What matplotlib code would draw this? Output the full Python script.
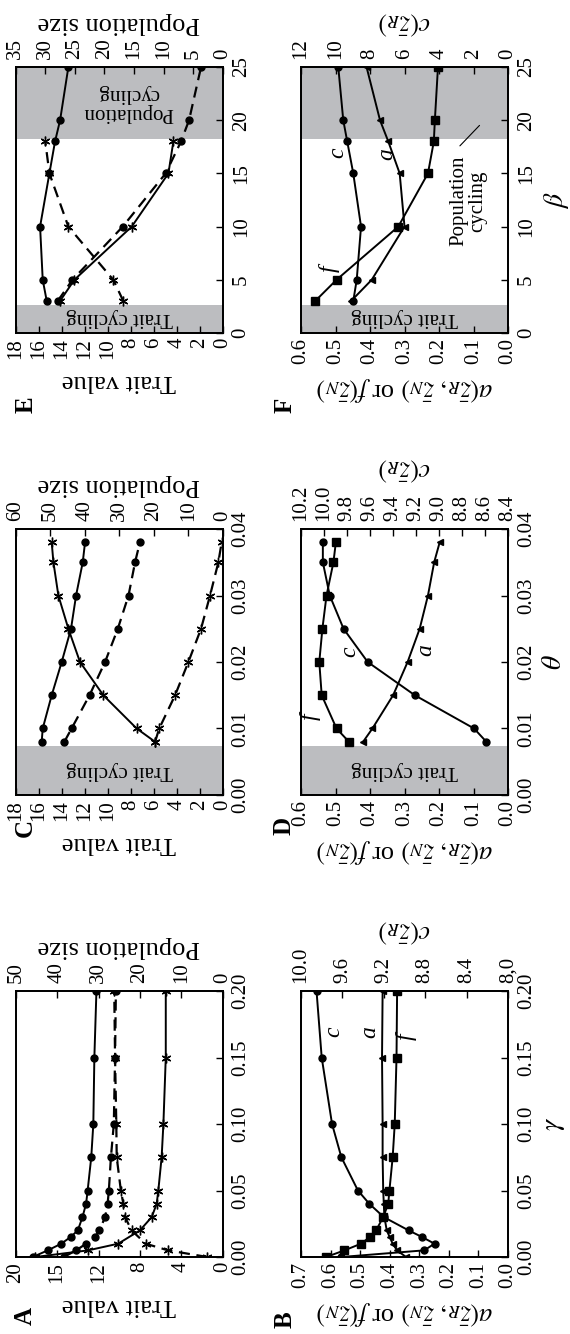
import matplotlib
matplotlib.use('Agg')
import matplotlib.pyplot as plt

plt.rcParams['font.family'] = 'serif'
plt.rcParams['font.serif'] = ['Liberation Serif', 'DejaVu Serif']
plt.rcParams['mathtext.fontset'] = 'stix'

# ---------------- data ----------------
# Panel A / B : gamma
gamma = [0, 0.005, 0.01, 0.015, 0.02, 0.03, 0.04, 0.05, 0.075, 0.1, 0.15, 0.2]
gamma_pred = [0, 0.005, 0.01, 0.02, 0.03, 0.04, 0.05, 0.075, 0.1, 0.15, 0.2]
A_trait_prey = [18.35, 16.9, 15.6, 14.7, 14.0, 13.55, 13.2, 13.05, 12.7, 12.5, 12.4, 12.2]
A_pop_prey = [38.4, 35.4, 33.0, 30.8, 29.8, 28.4, 27.8, 27.5, 27.0, 26.3, 26.0, 25.8]
A_trait_pred = [18.1, 13.0, 10.1, 8.0, 6.86, 6.38, 6.22, 5.9, 5.73, 5.5, 5.5]
A_pop_pred = [3.7, 13.2, 18.6, 22.0, 23.6, 24.0, 24.6, 25.6, 25.7, 26.0, 26.2]
B_c = [9.61, 8.81, 8.71, 8.83, 8.96, 9.20, 9.34, 9.45, 9.61, 9.70, 9.80, 9.85]
B_f = [0.615, 0.553, 0.497, 0.467, 0.446, 0.422, 0.405, 0.401, 0.390, 0.383, 0.377, 0.375]
B_a = [0.345, 0.375, 0.39, 0.40, 0.41, 0.418, 0.42, 0.422, 0.424, 0.424, 0.426, 0.424]

# Panel C / D : theta
theta = [0.008, 0.01, 0.015, 0.02, 0.025, 0.03, 0.035, 0.038]
C_trait_prey = [15.74, 15.65, 14.87, 14.0, 13.19, 12.75, 12.17, 11.97]
C_pop_prey = [45.9, 43.8, 38.6, 34.1, 30.4, 27.3, 25.4, 24.0]
C_trait_pred = [5.88, 7.48, 10.38, 12.41, 13.42, 14.29, 14.72, 14.87]
C_pop_pred = [19.6, 18.4, 13.8, 9.95, 6.28, 3.67, 1.26, 0.3]
D_f = [0.461, 0.497, 0.540, 0.547, 0.538, 0.526, 0.506, 0.499]
D_c = [8.588, 8.695, 9.21, 9.62, 9.83, 9.95, 10.01, 10.01]
D_a = [0.420, 0.393, 0.333, 0.291, 0.256, 0.232, 0.214, 0.198]

# Panel E / F : beta
beta = [3, 5, 10, 15, 18, 20, 25]
beta_pred = [3, 5, 10, 15, 18]
E_trait_prey = [15.30, 15.65, 15.88, 15.07, 14.58, 14.14, 13.42]
E_pop_prey = [27.9, 25.4, 16.9, 9.64, 7.05, 5.69, 3.66]
E_trait_pred = [14.15, 12.9, 7.91, 4.72, 4.29]
E_pop_pred = [16.8, 18.5, 26.1, 29.3, 30.0]
F_f = [0.559, 0.497, 0.318, 0.232, 0.215, 0.212, 0.203]
F_c = [8.97, 8.77, 8.52, 8.97, 9.32, 9.55, 9.84]
F_a = [0.455, 0.395, 0.30, 0.314, 0.347, 0.371, 0.41]

# shaded regions (parameter ranges)
trait_cycling_C = (0, 0.0073)
trait_cycling_E = (0, 2.6)
pop_cycling_E = (18.2, 25)

# ---------------- figure ----------------
W, H = 570, 1334
fig = plt.figure(figsize=(W / 100, H / 100), dpi=100)
shade = '#bcbdc0'
TICK = 15
LAB = 19
ASTER = (6, 2, 0)
solid = dict(color='k', lw=1.4, ls='-')
dashed = dict(color='k', lw=1.6, ls=(0, (5, 3)))


def px_axes(x0, y0, x1, y1):
    return fig.add_axes([x0 / W, 1 - y1 / H, (x1 - x0) / W, (y1 - y0) / H])


def make_panel(box, vmax, vticks, vlabels, tmax, tticks, tlabels, pmax, pticks, plabels,
               left_label, top_label, plabel=None):
    ax = px_axes(*box)
    ax.set_xlim(vmax, 0)
    ax.set_ylim(0, pmax)
    ax.set_xticks(vticks)
    ax.set_xticklabels(vlabels, rotation=90)
    ax.yaxis.tick_right()
    ax.set_yticks(pticks)
    ax.set_yticklabels(plabels, rotation=90, va='center')
    ax.tick_params(direction='in', length=5, width=1, labelsize=TICK,
                   top=False, left=False, right=True, bottom=True)
    ax.tick_params(axis='x', pad=3.5)
    ax.tick_params(axis='y', pad=6.5)
    for s in ax.spines.values():
        s.set_linewidth(1.3)
    ax2 = ax.twiny()
    ax2.set_xlim(tmax, 0)
    ax2.set_xticks(tticks)
    ax2.set_xticklabels(tlabels, rotation=90)
    ax2.tick_params(direction='in', length=5, width=1, labelsize=TICK, pad=6)
    for s in ax2.spines.values():
        s.set_linewidth(1.3)
    ax.set_xlabel(left_label, rotation=180, fontsize=LAB, labelpad=8)
    ax2.set_xlabel(top_label, rotation=180, fontsize=LAB, labelpad=6)
    if plabel:
        ax.yaxis.set_label_position('right')
        ax.set_ylabel(plabel, rotation=90, fontsize=LAB + 1, labelpad=4)
    return ax, ax2


def letter(x, y, s):
    fig.text(x / W, 1 - y / H, s, rotation=90, fontsize=18, fontweight='bold',
             ha='center', va='center')


def curve_label(ax, s, v, p):
    ax.text(v, p, s, fontsize=17, style='italic', rotation=90, ha='center', va='center')


ab_label = r'$a(\bar{z}_R,\,\bar{z}_N)$ or $f(\bar{z}_N)$'
c_label = r'$c(\bar{z}_R)$'
gticks = [0, 0.05, 0.1, 0.15, 0.2]
gl = ['%.2f' % g for g in gticks]
tht = [0, 0.01, 0.02, 0.03, 0.04]
thl = ['%.2f' % t for t in tht]
bt = [0, 5, 10, 15, 20, 25]
btl = [str(b) for b in bt]
ft = [0, 0.1, 0.2, 0.3, 0.4, 0.5, 0.6]
ftl = ['%.1f' % v for v in ft]

# ---- Panel A ----
ax, ax2 = make_panel((15.7, 991, 222.7, 1257), 20, [0, 4, 8, 12, 16, 20],
                     ['0', '4', '8', '12', '15', '20'], 50, [0, 10, 20, 30, 40, 50],
                     ['0', '10', '20', '30', '40', '50'], 0.2, gticks, gl,
                     'Trait value', 'Population size')
ax.plot(A_trait_prey, gamma, marker='o', ms=5, **solid)
ax.plot(A_trait_pred, gamma_pred, marker=ASTER, ms=7, mew=1, **solid)
ax2.plot(A_pop_prey, gamma, marker='o', ms=5, **dashed)
ax2.plot(A_pop_pred, gamma_pred, marker=ASTER, ms=7, mew=1, **dashed)
letter(25, 1316, 'A')

# ---- Panel B ----
ax, ax2 = make_panel((301, 991, 508, 1257), 0.7, [0, 0.1, 0.2, 0.3, 0.4, 0.5, 0.6, 0.7],
                     ['0.0', '0.1', '0.2', '0.3', '0.4', '0.5', '0.6', '0.7'], 10,
                     [8.0, 8.4, 8.8, 9.2, 9.6, 10.0],
                     ['8,0', '8.4', '8.8', '9.2', '9.6', '10.0'], 0.2, gticks, gl,
                     ab_label, c_label, r'$\gamma$')
ax2.set_xlim(10, 8)
ax.plot(B_f, gamma, marker='s', ms=6, **solid)
ax.plot(B_a, gamma, marker='<', ms=5, **solid)
ax2.plot(B_c, gamma, marker='o', ms=5, **solid)
for s, v, g in [('c', 0.59, 0.169), ('a', 0.468, 0.169), ('f', 0.343, 0.166)]:
    curve_label(ax, s, v, g)
letter(285, 1320, 'B')

# ---- Panel C ----
ax, ax2 = make_panel((15.7, 529, 222.7, 795), 18, list(range(0, 19, 2)),
                     [str(v) for v in range(0, 19, 2)], 60, list(range(0, 61, 10)),
                     [str(v) for v in range(0, 61, 10)], 0.04, tht, thl,
                     'Trait value', 'Population size')
ax.axhspan(*trait_cycling_C, color=shade, lw=0, zorder=0)
ax.text(9, 0.0037, 'Trait cycling', rotation=180, fontsize=15, ha='center', va='center')
ax.plot(C_trait_prey, theta, marker='o', ms=5, **solid)
ax.plot(C_trait_pred, theta, marker=ASTER, ms=7, mew=1, **solid)
ax2.plot(C_pop_prey, theta, marker='o', ms=5, **dashed)
ax2.plot(C_pop_pred, theta, marker=ASTER, ms=7, mew=1, **dashed)
letter(25, 828, 'C')

# ---- Panel D ----
dct = [8.4, 8.6, 8.8, 9.0, 9.2, 9.4, 9.6, 9.8, 10.0, 10.2]
ax, ax2 = make_panel((301, 529, 508, 795), 0.6, ft, ftl, 10.2, dct,
                     ['%.1f' % v for v in dct], 0.04, tht, thl,
                     ab_label, c_label, r'$\theta$')
ax2.set_xlim(10.2, 8.4)
ax.axhspan(*trait_cycling_C, color=shade, lw=0, zorder=0)
ax.text(0.3, 0.0037, 'Trait cycling', rotation=180, fontsize=15, ha='center', va='center')
ax.plot(D_f, theta, marker='s', ms=6, **solid)
ax.plot(D_a, theta, marker='<', ms=5, **solid)
ax2.plot(D_c, theta, marker='o', ms=5, **solid)
for s, v, t in [('f', 0.572, 0.0118), ('c', 0.458, 0.0216), ('a', 0.238, 0.0218)]:
    curve_label(ax, s, v, t)
letter(284, 826, 'D')

# ---- Panel E ----
ax, ax2 = make_panel((15.7, 67, 222.7, 333), 18, list(range(0, 19, 2)),
                     [str(v) for v in range(0, 19, 2)], 35, list(range(0, 36, 5)),
                     [str(v) for v in range(0, 36, 5)], 25, bt, btl,
                     'Trait value', 'Population size')
ax.axhspan(*trait_cycling_E, color=shade, lw=0, zorder=0)
ax.axhspan(*pop_cycling_E, color=shade, lw=0, zorder=0)
ax.text(9, 1.5, 'Trait cycling', rotation=180, fontsize=15, ha='center', va='center')
ax.text(8.2, 21.6, 'Population\ncycling', rotation=180, fontsize=15, ha='center',
        va='center', multialignment='center', linespacing=1.0)
ax.plot(E_trait_prey, beta, marker='o', ms=5, **solid)
ax.plot(E_trait_pred, beta_pred, marker=ASTER, ms=7, mew=1, **solid)
ax2.plot(E_pop_prey, beta, marker='o', ms=5, **dashed)
ax2.plot(E_pop_pred, beta_pred, marker=ASTER, ms=7, mew=1, **dashed)
letter(26, 405, 'E')

# ---- Panel F ----
ax, ax2 = make_panel((301, 67, 508, 333), 0.6, ft, ftl, 12, list(range(0, 13, 2)),
                     [str(v) for v in range(0, 13, 2)], 25, bt, btl,
                     ab_label, c_label, r'$\beta$')
ax.axhspan(*trait_cycling_E, color=shade, lw=0, zorder=0)
ax.axhspan(*pop_cycling_E, color=shade, lw=0, zorder=0)
ax.text(0.3, 1.5, 'Trait cycling', rotation=180, fontsize=15, ha='center', va='center')
ax.text(0.116, 12.4, 'Population\ncycling', rotation=90, fontsize=15, ha='center',
        va='center', multialignment='center', linespacing=1.0)
ax.annotate('', xy=(0.077, 19.7), xytext=(0.145, 17.4),
            arrowprops=dict(arrowstyle='-', lw=0.8, color='k'))
ax.plot(F_f, beta, marker='s', ms=6, **solid)
ax.plot(F_a, beta, marker='<', ms=5, **solid)
ax2.plot(F_c, beta, marker='o', ms=5, **solid)
for s, v, b in [('c', 0.492, 16.9), ('a', 0.352, 16.8), ('f', 0.518, 6.0)]:
    curve_label(ax, s, v, b)
letter(285, 405, 'F')

fig.savefig('out.png', dpi=100)
